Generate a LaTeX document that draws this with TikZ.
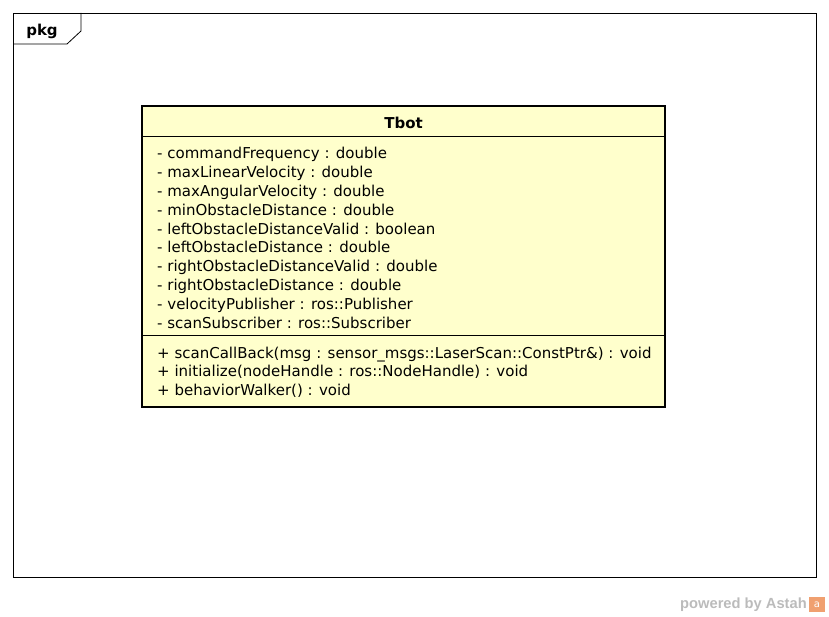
\documentclass[tikz,border=0pt]{standalone}
\usepackage{fontspec}
\setmainfont{DejaVu Sans}
\newfontfamily\logofont{Liberation Sans}
\begin{document}
\begin{tikzpicture}[x=1pt,y=-1pt,
  member/.style={anchor=west,inner sep=0pt,text height=11pt,text depth=3pt,font=\fontsize{15}{17}\selectfont},
  frameline/.style={draw=black,line width=0.8pt},
  classbox/.style={draw=black,line width=2pt,fill=umlyellow}]
\definecolor{umlyellow}{HTML}{FFFFCC}
\definecolor{astahgray}{HTML}{BBBBBB}
\definecolor{astahorange}{HTML}{F0A070}
\useasboundingbox (0,0) rectangle (829,617);
% package frame
\draw[frameline] (13,13) rectangle (816,577);
\draw[frameline] (13,44) -- (67,44) -- (81,31) -- (81,13);
\node[inner sep=0pt,font=\bfseries\fontsize{15}{17}\selectfont] (pkg) at (42,31) {pkg};
% class
\draw[classbox] (142,106) rectangle (665,407);
\coordinate (c1l) at (142,136); \coordinate (c1r) at (665,136);
\coordinate (c2l) at (142,335); \coordinate (c2r) at (665,335);
\draw[line width=0.8pt] (c1l) -- (c1r);
\draw[line width=0.8pt] (c2l) -- (c2r);
\node[inner sep=0pt,font=\bfseries\fontsize{15}{17}\selectfont] (title) at (403.5,122.5) {Tbot};
\node[member] (a1) at (157,155) {- commandFrequency : double};
\node[member] (a2) at (157,173.8) {- maxLinearVelocity : double};
\node[member] (a3) at (157,192.6) {- maxAngularVelocity : double};
\node[member] (a4) at (157,211.4) {- minObstacleDistance : double};
\node[member] (a5) at (157,230.2) {- leftObstacleDistanceValid : boolean};
\node[member] (a6) at (157,249) {- leftObstacleDistance : double};
\node[member] (a7) at (157,267.8) {- rightObstacleDistanceValid : double};
\node[member] (a8) at (157,286.6) {- rightObstacleDistance : double};
\node[member] (a9) at (157,305.4) {- velocityPublisher : ros::Publisher};
\node[member] (a10) at (157,324.2) {- scanSubscriber : ros::Subscriber};
\node[member] (m1) at (157,354) {+ scanCallBack(msg : sensor\_msgs::LaserScan::ConstPtr\&) : void};
\node[member] (m2) at (157,372.8) {+ initialize(nodeHandle : ros::NodeHandle) : void};
\node[member] (m3) at (157,391.6) {+ behaviorWalker() : void};
% logo
\node[anchor=east,inner sep=0pt,text=astahgray,font=\logofont\bfseries\fontsize{14.7}{16}\selectfont] (pw) at (807,604.5) {powered by Astah};
\fill[astahorange] (809,597) rectangle (825,612);
\node[inner sep=0pt,text=white,font=\fontsize{10}{11}\selectfont] (lg) at (817,605) {a};
\end{tikzpicture}
\end{document}
